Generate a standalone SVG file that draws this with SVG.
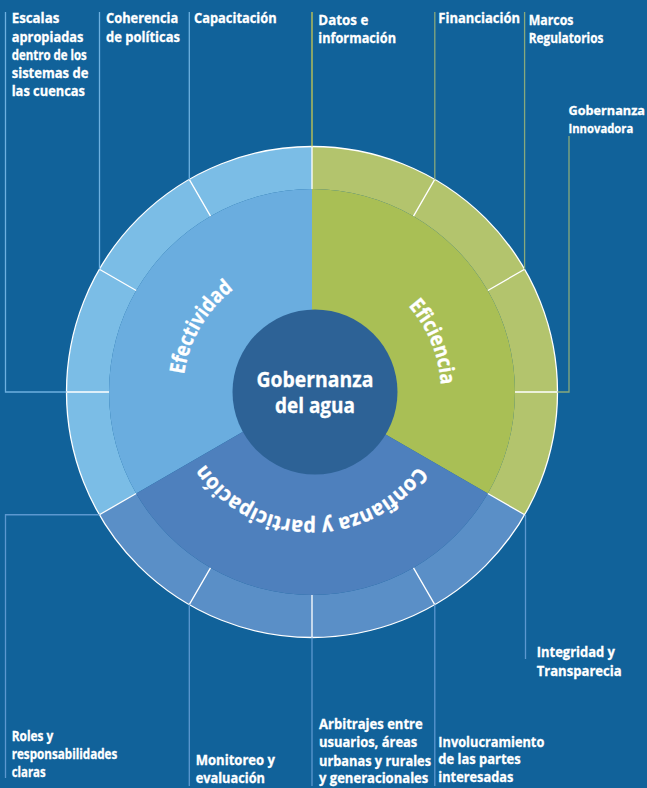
<svg xmlns="http://www.w3.org/2000/svg" width="647" height="788" viewBox="0 0 647 788">
<style>
.lbl{font-family:"Open Sans","Noto Sans","Liberation Sans",sans-serif;font-weight:700;font-size:14px;fill:#ffffff;stroke:#ffffff;stroke-width:0.3}
.sm{font-size:12.8px}
.arc{font-family:"Open Sans","Noto Sans","Liberation Sans",sans-serif;font-weight:700;font-size:21px;fill:#ffffff;stroke:#ffffff;stroke-width:0.3}
.ctr{font-family:"Open Sans","Noto Sans","Liberation Sans",sans-serif;font-weight:700;font-size:21px;fill:#ffffff;stroke:#ffffff;stroke-width:0.3}
.div{stroke:#ffffff;stroke-width:1.3;fill:none}
.cn{fill:none;stroke-width:1.3}
.cb{stroke:#6db0e0}
.cy{stroke:#c9c94f}
.cg{stroke:#88a97c}
.cl{stroke:#5c98d0}
</style>
<defs>
<path id="ringText" d="M183,392 A129,129 0 1 1 441,392 A129,129 0 1 1 183,392"/>
</defs>
<rect x="0" y="0" width="647" height="788" fill="#11629a"/>

<g id="sector-efectividad">
<path d="M312,146.5 A245.5,245.5 0 0 0 99.391,514.75 L136.197,493.5 A203,203 0 0 1 312,189 Z" fill="#7bbde6"/>
<path d="M312,392 L312,189 A203,203 0 0 0 136.197,493.5 Z" fill="#6aaddf"/>
</g>
<g id="sector-eficiencia">
<path d="M312,146.5 A245.5,245.5 0 0 1 524.609,514.75 L487.803,493.5 A203,203 0 0 0 312,189 Z" fill="#b3c46d"/>
<path d="M312,392 L312,189 A203,203 0 0 1 487.803,493.5 Z" fill="#a9bf55"/>
</g>
<g id="sector-confianza">
<path d="M524.609,514.75 A245.5,245.5 0 0 1 99.391,514.75 L136.197,493.5 A203,203 0 0 0 487.803,493.5 Z" fill="#5a8fc7"/>
<path d="M312,392 L487.803,493.5 A203,203 0 0 1 136.197,493.5 Z" fill="#4e80bd"/>
</g>

<g id="dividers">
<circle cx="312" cy="392" r="245.5" class="div"/>
<path class="div" d="M515,392 L557.5,392 M487.803,290.5 L524.609,269.25 M413.5,216.197 L434.75,179.391 M312,189 L312,146.5 M210.5,216.197 L189.25,179.391 M136.197,290.5 L99.391,269.25 M109,392 L66.5,392 M136.197,493.5 L99.391,514.75 M210.5,567.803 L189.25,604.609 M312,595 L312,637.5 M413.5,567.803 L434.75,604.609 M487.803,493.5 L524.609,514.75"/>
</g>

<g id="connectors">
<path class="cn cb" d="M5.5,12 V392 H66.5"/>
<path class="cn cb" d="M99.5,12 V269.25"/>
<path class="cn cb" d="M189.3,12 V179.4"/>
<path class="cn cy" d="M312,12 V146.5"/>
<path class="cn cg" d="M434.8,12 V179.4"/>
<path class="cn cg" d="M524.6,12 V269.25"/>
<path class="cn cg" d="M569,136 V392 H557.5"/>
<path class="cn cl" d="M525.5,514.75 V659"/>
<path class="cn cl" d="M434.8,604.6 V786"/>
<path class="cn cl" d="M312,637.5 V786"/>
<path class="cn cl" d="M189.3,604.6 V786"/>
<path class="cn cl" d="M99.4,514.75 H5.5 V778"/>
</g>

<g id="sector-labels">
<text class="arc" text-anchor="middle"><textPath href="#ringText" startOffset="68" textLength="101" lengthAdjust="spacingAndGlyphs">Efectividad</textPath></text>
<text class="arc" text-anchor="middle"><textPath href="#ringText" startOffset="354.4" textLength="87" lengthAdjust="spacingAndGlyphs">Eficiencia</textPath></text>
<text class="arc" text-anchor="middle"><textPath href="#ringText" startOffset="609" textLength="250" lengthAdjust="spacingAndGlyphs">Confianza y participación</textPath></text>
</g>

<g id="center">
<circle cx="315" cy="392" r="82.5" fill="#2d6296"/>
<text class="ctr" x="315" y="386.7" text-anchor="middle" textLength="117" lengthAdjust="spacingAndGlyphs">Gobernanza</text>
<text class="ctr" x="315" y="413.3" text-anchor="middle" textLength="80" lengthAdjust="spacingAndGlyphs">del agua</text>
</g>

<g id="label-escalas">
<text class="lbl" x="11.7" y="23.3" textLength="47.6" lengthAdjust="spacingAndGlyphs">Escalas</text>
<text class="lbl" x="11.7" y="41.6" textLength="71.7" lengthAdjust="spacingAndGlyphs">apropiadas</text>
<text class="lbl" x="11.7" y="59.8" textLength="75" lengthAdjust="spacingAndGlyphs">dentro de los</text>
<text class="lbl" x="11.7" y="78" textLength="76.7" lengthAdjust="spacingAndGlyphs">sistemas de</text>
<text class="lbl" x="11.7" y="96" textLength="73.3" lengthAdjust="spacingAndGlyphs">las cuencas</text>
</g>
<g id="label-coherencia">
<text class="lbl" x="106" y="22.7" textLength="72.3" lengthAdjust="spacingAndGlyphs">Coherencia</text>
<text class="lbl" x="106" y="41.6" textLength="74" lengthAdjust="spacingAndGlyphs">de políticas</text>
</g>
<g id="label-capacitacion">
<text class="lbl" x="194" y="22.7" textLength="82.7" lengthAdjust="spacingAndGlyphs">Capacitación</text>
</g>
<g id="label-datos">
<text class="lbl" x="318.3" y="25.3" textLength="50" lengthAdjust="spacingAndGlyphs">Datos e</text>
<text class="lbl" x="318.3" y="43.3" textLength="77.7" lengthAdjust="spacingAndGlyphs">información</text>
</g>
<g id="label-financiacion">
<text class="lbl" x="438.3" y="22.7" textLength="81.7" lengthAdjust="spacingAndGlyphs">Financiación</text>
</g>
<g id="label-marcos">
<text class="lbl" x="528.7" y="25.3" textLength="44.7" lengthAdjust="spacingAndGlyphs">Marcos</text>
<text class="lbl" x="528.7" y="43.3" textLength="74.7" lengthAdjust="spacingAndGlyphs">Regulatorios</text>
</g>
<g id="label-gobernanza">
<text class="lbl sm" x="568.5" y="114.7" textLength="76.5" lengthAdjust="spacingAndGlyphs">Gobernanza</text>
<text class="lbl sm" x="568.5" y="132.7" textLength="64.7" lengthAdjust="spacingAndGlyphs">Innovadora</text>
</g>
<g id="label-integridad">
<text class="lbl" x="536.7" y="657.3" textLength="78.3" lengthAdjust="spacingAndGlyphs">Integridad y</text>
<text class="lbl" x="536.7" y="675.7" textLength="85" lengthAdjust="spacingAndGlyphs">Transparecia</text>
</g>
<g id="label-involucramiento">
<text class="lbl" x="438.3" y="746.7" textLength="106" lengthAdjust="spacingAndGlyphs">Involucramiento</text>
<text class="lbl" x="438.3" y="764.3" textLength="82.3" lengthAdjust="spacingAndGlyphs">de las partes</text>
<text class="lbl" x="438.3" y="782.3" textLength="75" lengthAdjust="spacingAndGlyphs">interesadas</text>
</g>
<g id="label-arbitrajes">
<text class="lbl" x="319" y="729.3" textLength="103.7" lengthAdjust="spacingAndGlyphs">Arbitrajes entre</text>
<text class="lbl" x="319" y="747.3" textLength="98.3" lengthAdjust="spacingAndGlyphs">usuarios, áreas</text>
<text class="lbl" x="319" y="765.7" textLength="112" lengthAdjust="spacingAndGlyphs">urbanas y rurales</text>
<text class="lbl" x="319" y="783.3" textLength="109.3" lengthAdjust="spacingAndGlyphs">y generacionales</text>
</g>
<g id="label-monitoreo">
<text class="lbl" x="195.7" y="765" textLength="79.3" lengthAdjust="spacingAndGlyphs">Monitoreo y</text>
<text class="lbl" x="195.7" y="782.7" textLength="69.3" lengthAdjust="spacingAndGlyphs">evaluación</text>
</g>
<g id="label-roles">
<text class="lbl" x="11.7" y="741" textLength="41.6" lengthAdjust="spacingAndGlyphs">Roles y</text>
<text class="lbl" x="11.7" y="759.3" textLength="105.6" lengthAdjust="spacingAndGlyphs">responsabilidades</text>
<text class="lbl" x="11.7" y="777.3" textLength="34" lengthAdjust="spacingAndGlyphs">claras</text>
</g>
</svg>
